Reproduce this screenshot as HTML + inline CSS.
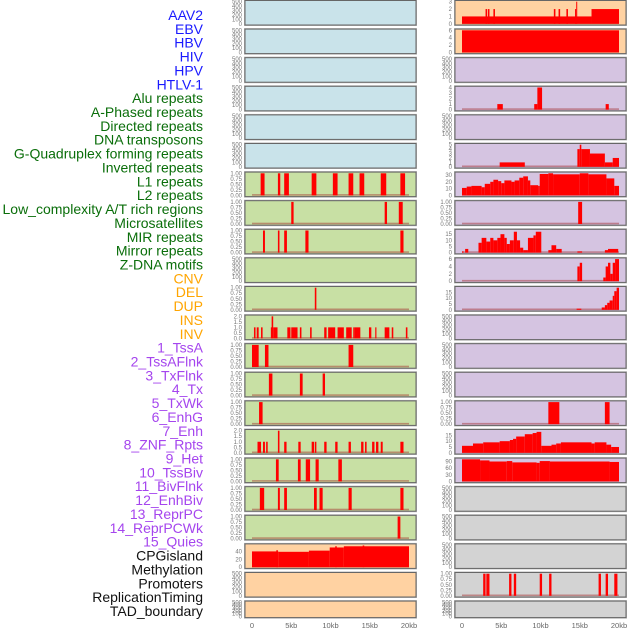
<!DOCTYPE html>
<html><head><meta charset="utf-8">
<style>
html,body{margin:0;padding:0;background:#fff;}
svg{display:block;font-family:"Liberation Sans",sans-serif;}
</style></head>
<body>
<svg id="chart" width="630" height="630" viewBox="0 0 630 630"></svg>
<script>
// ---- labels ----
const labelNames = ["AAV2","EBV","HBV","HIV","HPV","HTLV-1","Alu repeats","A-Phased repeats","Directed repeats","DNA transposons","G-Quadruplex forming repeats","Inverted repeats","L1 repeats","L2 repeats","Low_complexity A/T rich regions","Microsatellites","MIR repeats","Mirror repeats","Z-DNA motifs","CNV","DEL","DUP","INS","INV","1_TssA","2_TssAFlnk","3_TxFlnk","4_Tx","5_TxWk","6_EnhG","7_Enh","8_ZNF_Rpts","9_Het","10_TssBiv","11_BivFlnk","12_EnhBiv","13_ReprPC","14_ReprPCWk","15_Quies","CPGisland","Methylation","Promoters","ReplicationTiming","TAD_boundary"];
const labelGroups = [6,13,5,15,5];
const groupColors = ["#1a1aff","#0a6e0a","#ffa500","#a545ee","#111111"];
const leftBg = ["#c9e3ea","#c9e3ea","#c9e3ea","#c9e3ea","#c9e3ea","#c9e3ea","#c8e0a4","#c8e0a4","#c8e0a4","#c8e0a4","#c8e0a4","#c8e0a4","#c8e0a4","#c8e0a4","#c8e0a4","#c8e0a4","#c8e0a4","#c8e0a4","#c8e0a4","#ffd2a2","#ffd2a2","#ffd2a2"];
const rightBg = ["#ffd2a2","#ffd2a2","#d5c4e1","#d5c4e1","#d5c4e1","#d5c4e1","#d5c4e1","#d5c4e1","#d5c4e1","#d5c4e1","#d5c4e1","#d5c4e1","#d5c4e1","#d5c4e1","#d5c4e1","#d5c4e1","#d5c4e1","#d3d3d3","#d3d3d3","#d3d3d3","#d3d3d3","#d3d3d3"];

// ---- x axis ----
const xTickValues = [0,5,10,15,20];
const xTickLabels = ["0","5kb","10kb","15kb","20kb"];

// ---- tick sets ----
const ticksEmpty = [0,100,200,300,400,500];
const ticksBinary = [0,0.25,0.5,0.75,1];
const ticksTwo = [0,0.5,1,1.5,2];

// ---- left column track data: [startKb, endKb, value] ----
const L6 = [[1.1,1.6,1],[3.3,3.6,1],[4.1,4.7,1],[7.6,8.2,1],[10.3,10.9,1],[12.3,12.9,1],[13.7,14.3,1],[16.4,17.1,1],[18.9,19.5,1]];
const L7 = [[5.0,5.3,1],[16.9,17.2,1],[18.7,19.2,1]];
const L8 = [[1.4,1.65,1],[3.3,3.5,1],[4.1,4.45,1],[6.8,7.2,1],[18.9,19.3,1]];
const L10 = [[8.0,8.2,1]];
const L11 = [[0.25,0.45,1],[0.6,0.85,1],[1.15,1.35,1],[2.4,2.6,1],[2.5,2.7,2],[2.7,3.25,1],[4.5,4.9,1],[5.0,5.8,1],[6.1,6.3,1],[7.4,7.6,1],[9.2,9.5,1],[9.7,10.6,1],[10.9,11.7,1],[12.0,12.7,1],[12.9,13.1,1],[13.1,13.8,1],[14.9,15.2,1],[15.7,15.85,1],[16.9,17.5,1],[17.8,18.0,1],[19.6,19.8,1]];
const L12 = [[0,0.85,1],[1.65,2.1,1],[12.3,12.9,1]];
const L13 = [[2.15,2.6,1],[6.1,6.45,1],[9.0,9.3,1]];
const L14 = [[0.9,1.35,1]];
const L15 = [[0.7,1.15,1],[1.4,1.65,1],[1.8,2.0,1],[3.3,3.5,2],[4.1,4.4,1],[5.9,6.2,1],[7.6,7.9,1],[8.0,8.2,1],[9.2,9.5,1],[10.6,10.9,1],[12.3,12.6,1],[13.9,14.2,1],[14.4,14.6,1],[15.3,15.6,1],[15.8,16.1,1],[16.4,16.65,1],[18.9,19.3,1]];
const L16 = [[3.05,3.4,1],[5.85,6.2,1],[6.85,7.4,1],[8.1,8.5,1],[11.0,11.45,1]];
const L17 = [[1.0,1.55,1],[3.3,3.55,1],[4.1,4.45,1],[7.9,8.25,1],[8.6,9.0,1],[12.3,12.7,1],[18.9,19.3,1]];
const L18 = [[18.55,18.9,1]];
const L19 = [[0,3.35,40],[3.1,3.3,43],[3.35,7.25,39],[7.25,9.9,42],[9.9,11.7,50],[10.6,10.8,53],[11.7,20,53],[14.1,14.3,55]];

// ---- right column track data ----
const R0 = [[0,16.5,1],[16.5,20,2],[3.0,3.2,2],[3.3,3.5,2],[4.0,4.2,2],[11.7,11.9,2],[12.3,12.5,2],[13.3,13.5,2],[14.4,14.55,2],[14.55,14.65,3]];
const R1 = [[0,20,6]];
const R3 = [[4.5,5.2,1],[9.2,9.6,1],[9.6,10.2,4],[18.3,18.7,1]];
const R5 = [[4.8,8.0,1],[14.7,15.0,4],[15.0,15.2,5],[15.2,16.3,4],[16.3,18.2,3],[18.2,19.2,1],[19.2,20,2]];
const R6 = [[0,0.6,11],[0.6,1.2,13],[1.2,2.5,14],[2.5,2.9,12],[2.9,3.6,17],[3.6,4.0,20],[4.0,4.6,23],[4.6,5.0,21],[5.0,5.4,18],[5.4,6.3,22],[6.3,6.7,20],[6.7,7.3,22],[7.3,7.8,26],[7.8,8.4,28],[8.4,8.7,22],[8.7,9.7,15],[9.7,9.9,14],[9.9,11.0,31.5],[11.0,11.6,32.5],[11.6,15.0,31],[15.0,16.1,32.5],[16.1,18.4,31],[18.4,19.4,25],[19.4,20,14]];
const R7 = [[14.8,15.3,1]];
const R8 = [[0,0.2,1],[0.4,0.8,3],[2.1,2.5,8],[2.5,3.1,12],[3.1,3.6,9],[3.6,4.0,12],[4.0,4.5,10],[4.5,4.9,12],[4.9,5.4,15],[5.4,5.7,12],[5.7,6.1,7],[6.1,6.6,10],[6.6,7.0,17],[7.0,7.4,10],[7.4,7.8,4],[7.8,8.4,2],[8.4,9.1,12],[9.1,9.4,14],[9.4,10.1,17],[11.0,11.4,2],[11.4,12.0,6],[12.0,12.7,3],[14.7,15.3,1],[18.2,18.6,2],[18.6,19.9,3]];
const R9 = [[14.7,15.0,4],[15.0,15.3,5],[18.0,18.3,1],[18.3,18.6,4],[18.6,18.9,5],[18.9,19.2,2],[19.2,19.5,5],[19.5,20,6]];
const R10 = [[14.6,15.2,1],[17.8,18.2,2],[18.2,18.5,4],[18.5,18.8,6],[18.8,19.2,8],[19.2,19.4,12],[19.4,19.7,16],[19.7,20,19]];
const R14 = [[11.0,12.4,1],[18.2,18.8,1]];
const R15 = [[0,1.4,6],[1.4,2.7,8],[2.7,4.8,9],[4.8,6.1,10],[6.1,6.5,11],[6.5,6.9,12],[6.9,8.0,14],[8.0,9.0,16],[9.0,9.5,17],[9.5,10.1,18],[10.1,11.4,6],[11.4,12.0,7],[12.0,12.6,8],[12.6,16.5,9],[16.5,16.9,8],[16.9,18.4,9],[18.4,19.0,7],[19.0,20,5]];
const R16 = [[0,2.3,100],[2.3,3.5,95],[3.5,5.7,90],[5.7,6.4,92],[6.4,9.5,86],[9.5,9.9,84],[9.9,11.2,92],[11.2,18.8,90],[18.8,20,88]];
const R20 = [[2.7,3.0,1],[3.1,3.5,1],[6.0,6.3,1],[6.6,6.9,1],[9.9,10.2,1],[11.1,11.4,1],[17.4,17.7,1],[18.3,18.6,1],[19.4,19.8,1]];

// ---- track specs: [data, yMax, ticks, tickDecimals] (null data = empty) ----
const leftTracks = [
 [null,500,ticksEmpty,0],[null,500,ticksEmpty,0],[null,500,ticksEmpty,0],[null,500,ticksEmpty,0],[null,500,ticksEmpty,0],[null,500,ticksEmpty,0],
 [L6,1,ticksBinary,2],[L7,1,ticksBinary,2],[L8,1,ticksBinary,2],[null,500,ticksEmpty,0],[L10,1,ticksBinary,2],[L11,2,ticksTwo,1],
 [L12,1,ticksBinary,2],[L13,1,ticksBinary,2],[L14,1,ticksBinary,2],[L15,2,ticksTwo,1],[L16,1,ticksBinary,2],[L17,1,ticksBinary,2],
 [L18,1,ticksBinary,2],[L19,56,[0,20,40],0],[null,500,ticksEmpty,0],[null,500,ticksEmpty,0]];
const rightTracks = [
 [R0,3,[0,1,2,3],0],[R1,6,[0,2,4,6],0],[null,500,ticksEmpty,0],[R3,4,[0,1,2,3,4],0],[null,500,ticksEmpty,0],[R5,5,[0,1,2,3,4,5],0],
 [R6,32.5,[0,10,20,30],0],[R7,1,ticksBinary,2],[R8,18,[0,5,10,15],0],[R9,6,[0,2,4,6],0],[R10,19,[0,5,10,15],0],[null,500,ticksEmpty,0],
 [null,500,ticksEmpty,0],[null,500,ticksEmpty,0],[R14,1,ticksBinary,2],[R15,19,[0,5,10,15],0],[R16,100,[0,30,60,90],0],[null,500,ticksEmpty,0],
 [null,500,ticksEmpty,0],[null,500,ticksEmpty,0],[R20,1,ticksBinary,2],[null,500,ticksEmpty,0]];

const NS = "http://www.w3.org/2000/svg";
const svg = document.getElementById("chart");
function mk(tag, attrs, parent){
  const e = document.createElementNS(NS, tag);
  for (const k in attrs) e.setAttribute(k, attrs[k]);
  (parent||svg).appendChild(e);
  return e;
}

// labels
let gi = 0, cnt = 0;
labelNames.forEach((name, i) => {
  while (cnt >= labelGroups[gi]) { cnt -= labelGroups[gi]; gi++; }
  cnt++;
  const t = mk("text", {x:203, y:(20 + i*13.86).toFixed(2), "text-anchor":"end", "font-size":"14", fill:groupColors[gi]});
  t.textContent = name;
  
  
});

const PITCH = 28.6;
function drawColumn(tracks, bgs, x0, colName){
  const w = 171;
  const xs = kb => x0 + 7 + kb * 7.85;
  tracks.forEach((tr, i) => {
    const top = 0.5 + i * PITCH;
    const h = (i === tracks.length - 1) ? 16.5 : 24.5;
    const g = mk("g", {});
    
    
    mk("rect", {x:x0-0.5, y:top-0.5, width:w+1, height:h+1, fill:"none", stroke:"#b5b5b5", "stroke-width":1}, g);
    mk("rect", {x:x0, y:top, width:w, height:h, fill:bgs[i], stroke:"#666", "stroke-width":1}, g);
    const [data, ymax, ticks, dec] = tr;
    const yb = top + h - 1.2, yt = top + 1.2;
    const ys = v => yb - (v / ymax) * (yb - yt);
    ticks.forEach(tv => {
      const lab = mk("text", {x:x0-3, y:(ys(tv)+2).toFixed(2), "text-anchor":"end", "font-size":"6", fill:"#777"}, g);
      lab.textContent = tv.toFixed(dec);
      
      
    });
    if (data) {
      mk("rect", {x:xs(0), y:yb-1.3, width:xs(20)-xs(0), height:1.6, fill:"rgba(160,40,40,0.45)"}, g);
      data.forEach(d => {
        const x1 = xs(d[0]), x2 = xs(d[1]);
        const b = mk("rect", {x:x1.toFixed(2), y:ys(d[2]).toFixed(2), width:Math.max(x2-x1,1).toFixed(2), height:(yb-ys(d[2])).toFixed(2), fill:"#ff0000"}, g);
        
        
      });
    }
  });
  xTickValues.forEach((v, k) => {
    const t = mk("text", {x:xs(v), y:628, "text-anchor":"middle", "font-size":"7.5", fill:"#666"});
    t.textContent = xTickLabels[k];
    
    
  });
}
drawColumn(leftTracks, leftBg, 245, "left");
drawColumn(rightTracks, rightBg, 455, "right");
</script>
</body></html>
